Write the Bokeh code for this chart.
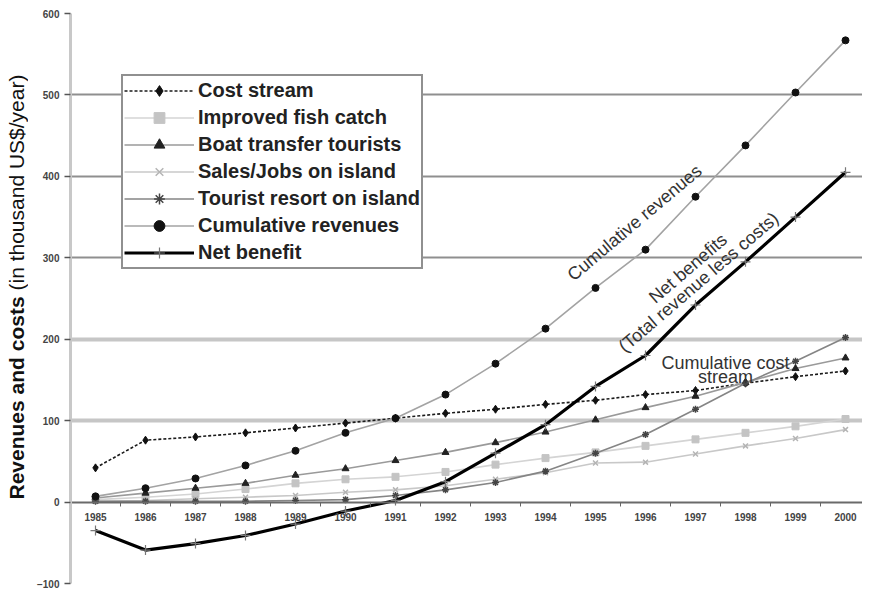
import math
from bokeh.plotting import figure
from bokeh.layouts import row
from bokeh.models import (Legend, LegendItem, LinearAxis, FixedTicker, Grid, Label,
                          ColumnDataSource)
from bokeh.embed import file_html
from bokeh.resources import INLINE

years = list(range(1985, 2001))
year_labels = [str(y) for y in years]
cost_stream = [42, 76, 80, 85, 91, 97, 103, 109, 114, 120, 125, 132, 137, 146, 154, 161]
fish_catch = [3, 6, 10, 16, 23, 28, 31, 37, 46, 54, 61, 69, 77, 85, 93, 102]
boat_transfer = [5, 11, 17, 23, 33, 41, 51, 61, 73, 86, 101, 116, 130, 147, 164, 177]
sales_jobs = [1, 2, 4, 6, 8, 12, 15, 20, 28, 36, 48, 49, 59, 69, 78, 89]
tourist_resort = [1, 1, 1, 1, 2, 3, 8, 15, 24, 38, 60, 83, 114, 146, 173, 202]
cumulative_revenues = [7, 17, 29, 45, 63, 85, 103, 132, 170, 213, 263, 310, 375, 438, 503, 567]
net_benefit = [-35, -59, -51, -41, -27, -11, 2, 25, 60, 95, 142, 180, 242, 295, 350, 405]
y_ticks = [-100, 0, 100, 200, 300, 400, 500, 600]
series_names = ["Cost stream", "Improved fish catch", "Boat transfer tourists",
                "Sales/Jobs on island", "Tourist resort on island",
                "Cumulative revenues", "Net benefit"]

FONT = "Liberation Sans"
H = 589

# narrow strip that carries the two-weight y-axis title
tf = figure(width=28, height=H, x_range=(0, 1), y_range=(0, 1), output_backend="svg",
            toolbar_location=None, x_axis_location=None, y_axis_location=None,
            min_border_left=0, min_border_right=0, min_border_top=0, min_border_bottom=0)
tf.outline_line_color = None
tf.xgrid.visible = False
tf.ygrid.visible = False
tf.add_layout(Label(x=16, y=84, x_units="screen", y_units="screen", text="Revenues and costs",
                    angle=math.pi / 2, text_align="left", text_baseline="middle",
                    text_font=FONT, text_font_size="21px", text_font_style="bold",
                    text_color="#111111"))
tf.add_layout(Label(x=16, y=293, x_units="screen", y_units="screen",
                    text="(in thousand US$/year)",
                    angle=math.pi / 2, text_align="left", text_baseline="middle",
                    text_font=FONT, text_font_size="21px", text_color="#111111"))

p = figure(width=834, height=H, x_range=(1984.5, 2000.34), y_range=(-100, 600),
           output_backend="svg", toolbar_location=None, x_axis_location=None,
           min_border_left=42, min_border_right=0, min_border_top=13, min_border_bottom=6)
p.outline_line_color = None
p.xgrid.visible = False
p.ygrid.visible = False

# grids
for ticks, col, w in [([300, 400, 500, 600], "#8f8f8f", 2),
                      ([100, 200], "#c6c6c6", 4),
                      ([-100], "#7a7a7a", 5)]:
    g = Grid(dimension=1, ticker=FixedTicker(ticks=ticks), grid_line_color=col, grid_line_width=w)
    p.add_layout(g)

# y axis
ya = p.yaxis[0]
ya.ticker = FixedTicker(ticks=y_ticks)
ya.axis_line_color = "#c8c8c8"
ya.axis_line_width = 3
ya.major_tick_out = 6
ya.major_tick_in = 0
ya.major_tick_line_color = "#555555"
ya.major_tick_line_width = 1.5
ya.minor_tick_out = 0
ya.minor_tick_in = 0
ya.major_label_text_font = FONT
ya.major_label_text_font_size = "10px"
ya.major_label_text_font_style = "bold"
ya.major_label_text_color = "#444444"
ya.major_label_standoff = 5

# x axis at zero
xa = LinearAxis(fixed_location=0,
                ticker=FixedTicker(ticks=years, minor_ticks=[y + 0.5 for y in years[:-1]]),
                major_label_overrides={y: s for y, s in zip(years, year_labels)})
xa.axis_line_color = "#6a6a6a"
xa.axis_line_width = 2
xa.major_tick_out = 0
xa.major_tick_in = 0
xa.minor_tick_out = 4
xa.minor_tick_in = 0
xa.minor_tick_line_color = "#666666"
xa.major_label_text_font = FONT
xa.major_label_text_font_size = "10px"
xa.major_label_text_font_style = "bold"
xa.major_label_text_color = "#444444"
xa.major_label_standoff = 7
p.add_layout(xa, "below")

styles = [
    (cost_stream, dict(line_color="#1a1a1a", line_width=1.6, line_dash="3 2"),
     dict(marker="diamond", size=8, fill_color="#111111", line_color="#111111")),
    (fish_catch, dict(line_color="#d4d4d4", line_width=1.6),
     dict(marker="square", size=7, fill_color="#c4c4c4", line_color="#c4c4c4")),
    (boat_transfer, dict(line_color="#9a9a9a", line_width=1.6),
     dict(marker="triangle", size=7, fill_color="#222222", line_color="#222222")),
    (sales_jobs, dict(line_color="#c8c8c8", line_width=1.6),
     dict(marker="x", size=7, line_color="#b4b4b4", line_width=1.5)),
    (tourist_resort, dict(line_color="#858585", line_width=1.6),
     dict(marker="asterisk", size=7, line_color="#444444", line_width=1.5)),
    (cumulative_revenues, dict(line_color="#a3a3a3", line_width=1.6),
     dict(marker="circle", size=7, fill_color="#111111", line_color="#111111")),
    (net_benefit, dict(line_color="#000000", line_width=3.2),
     dict(marker="cross", size=10, line_color="#777777", line_width=1.2)),
]

items = []
for name, (ys, lkw, mkw) in zip(series_names, styles):
    src = ColumnDataSource(dict(x=years, y=ys))
    r1 = p.line("x", "y", source=src, **lkw)
    r2 = p.scatter("x", "y", source=src, **mkw)
    items.append(LegendItem(label=name, renderers=[r1, r2]))

legend = Legend(items=items, location=(51, 314), padding=1, spacing=0,
                label_height=27, glyph_height=27, glyph_width=70, label_standoff=4,
                label_text_font=FONT, label_text_font_size="20px",
                label_text_font_style="bold", label_text_color="#222222",
                border_line_color="#222222", border_line_width=2,
                background_fill_color="white", background_fill_alpha=1.0, margin=0)
p.add_layout(legend)

ann_kw = dict(text_font=FONT, text_font_size="18px", text_color="#333333",
              text_align="center", text_baseline="middle")
p.add_layout(Label(x=1995.78, y=343, text="Cumulative revenues", angle=0.70, **ann_kw))
p.add_layout(Label(x=1996.85, y=287, text="Net benefits", angle=0.71, **ann_kw))
p.add_layout(Label(x=1997.06, y=270, text="(Total revenue less costs)", angle=0.71, **ann_kw))
p.add_layout(Label(x=1997.6, y=171, text="Cumulative cost", **ann_kw))
p.add_layout(Label(x=1997.6, y=153, text="stream", **ann_kw))

layout = row(tf, p, spacing=0)
open("out.html", "w").write(file_html(layout, INLINE))
